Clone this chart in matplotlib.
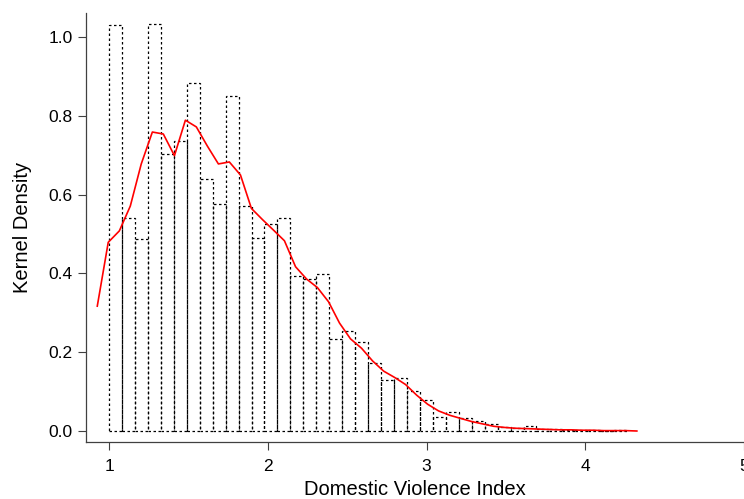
import matplotlib

matplotlib.use("Agg")
import matplotlib.pyplot as plt
import numpy as np

# histogram: 40 equal bins starting at 1.0
bin_start = 1.0
bin_width = 0.0816
hist_density = [
    1.030, 0.542, 0.488, 1.033, 0.703, 0.737, 0.884, 0.640, 0.576, 0.851,
    0.571, 0.490, 0.525, 0.540, 0.393, 0.387, 0.398, 0.233, 0.255, 0.225,
    0.173, 0.129, 0.135, 0.102, 0.078, 0.035, 0.047, 0.032, 0.025, 0.017,
    0.011, 0.008, 0.012, 0.005, 0.004, 0.003, 0.002, 0.002, 0.001, 0.003,
]

# kernel density evaluated on 50 points
kde_x = [
    0.926, 0.995, 1.065, 1.134, 1.203, 1.273, 1.342, 1.412, 1.481, 1.550,
    1.620, 1.689, 1.758, 1.828, 1.897, 1.966, 2.036, 2.105, 2.175, 2.244,
    2.313, 2.383, 2.452, 2.521, 2.591, 2.660, 2.730, 2.799, 2.868, 2.938,
    3.007, 3.076, 3.146, 3.215, 3.285, 3.354, 3.423, 3.493, 3.562, 3.631,
    3.701, 3.770, 3.839, 3.909, 3.978, 4.048, 4.117, 4.186, 4.256, 4.325,
]
kde_y = [
    0.317, 0.479, 0.508, 0.571, 0.678, 0.759, 0.754, 0.699, 0.789, 0.772,
    0.723, 0.678, 0.683, 0.650, 0.565, 0.537, 0.510, 0.483, 0.417, 0.386,
    0.364, 0.328, 0.274, 0.234, 0.210, 0.178, 0.152, 0.136, 0.118, 0.091,
    0.068, 0.051, 0.040, 0.032, 0.024, 0.018, 0.012, 0.009, 0.007, 0.006,
    0.005, 0.004, 0.003, 0.003, 0.002, 0.002, 0.001, 0.001, 0.001, 0.000,
]

x_ticks = [1, 2, 3, 4, 5]
y_ticks = [0.0, 0.2, 0.4, 0.6, 0.8, 1.0]

plt.rcParams["font.family"] = ["Liberation Sans", "DejaVu Sans"]

fig = plt.figure(figsize=(7.44, 4.99), dpi=100)
ax = fig.add_axes([0.1156, 0.1136, 0.8844, 0.861])

edges = bin_start + bin_width * np.arange(len(hist_density))
ax.bar(edges, hist_density, width=bin_width, align="edge", fill=False,
       edgecolor="black", linewidth=0.9, linestyle=(0, (2, 2)))
ax.plot(kde_x, kde_y, color="red", linewidth=1.2)

ax.set_xlim(0.855, 5.0)
ax.set_ylim(-0.0287, 1.062)
ax.set_xticks(x_ticks)
ax.set_yticks(y_ticks)
ax.set_yticklabels([f"{v:.1f}" for v in y_ticks])
ax.tick_params(axis="both", labelsize=12.5, length=6, width=0.8, color="#404040")
ax.tick_params(axis="x", pad=6)
ax.set_xlabel("Domestic Violence Index", fontsize=14.5, labelpad=4)
ax.set_ylabel("Kernel Density", fontsize=14.5, labelpad=12)

for side in ["top", "right"]:
    ax.spines[side].set_visible(False)
for side in ["left", "bottom"]:
    ax.spines[side].set_color("#404040")
    ax.spines[side].set_linewidth(0.9)

fig.savefig("out.png", dpi=100)
plt.close(fig)
